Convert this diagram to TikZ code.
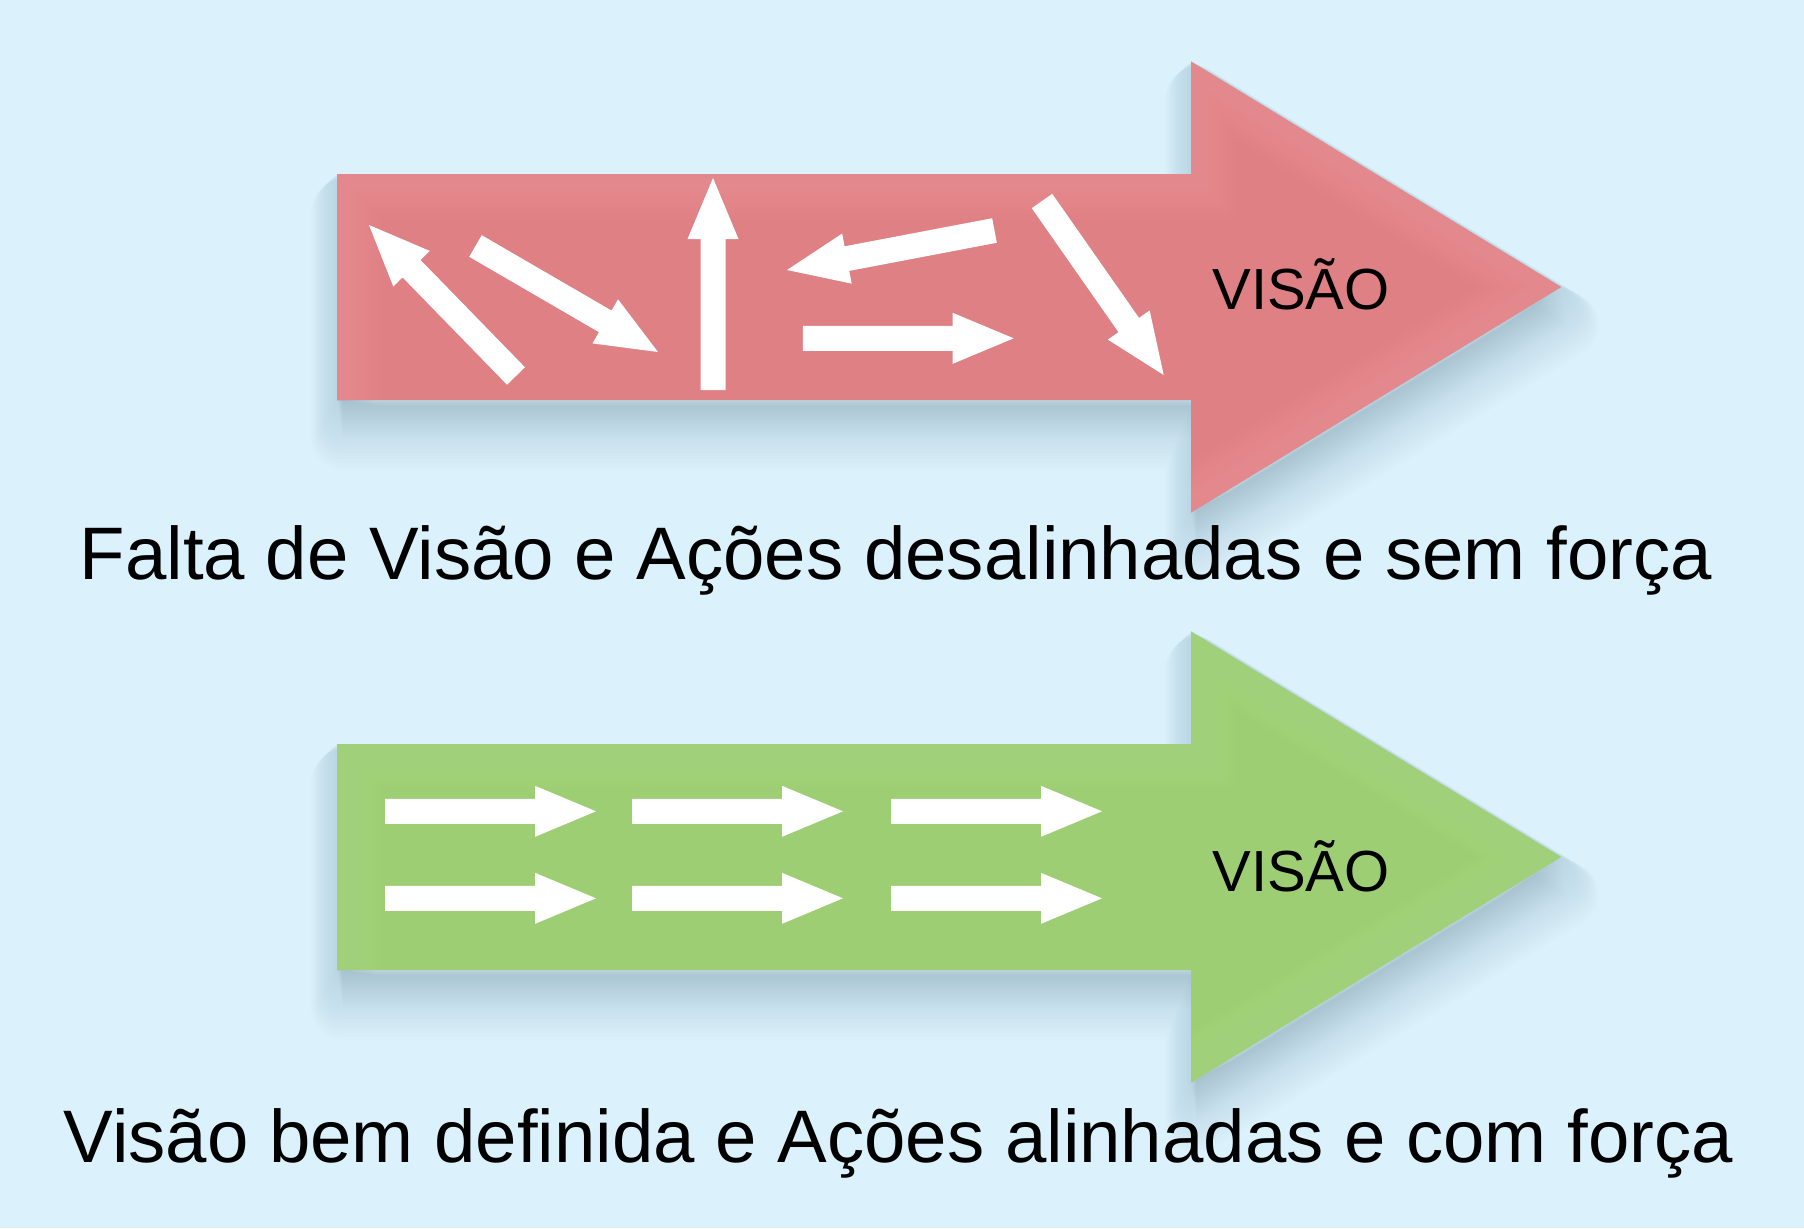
\documentclass[tikz,border=0pt]{standalone}
\usepackage{fontspec}
\setmainfont{Liberation Sans}
\usetikzlibrary{calc}
\definecolor{bgblue}{RGB}{219,242,253}
\definecolor{redbase}{RGB}{222,128,132}
\definecolor{redlight}{RGB}{238,148,153}
\definecolor{greenbase}{RGB}{157,206,116}
\definecolor{greenlight}{RGB}{171,220,133}
\definecolor{shadowc}{RGB}{70,100,115}
% big arrow outline, #1 = centre y (pixels)
\newcommand{\bigshape}[1]{(337,{#1-113}) -- (1191,{#1-113}) -- (1191,{#1-225.5}) -- (1561,#1) -- (1191,{#1+225.5}) -- (1191,{#1+113}) -- (337,{#1+113}) -- cycle}
\newcommand{\glowedge}[1]{(337,{#1+113}) -- (337,{#1-113}) -- (1191,{#1-113}) -- (1191,{#1-225.5}) -- (1561,#1) -- (1191,{#1+225.5})}
% soft shadow falling below a big arrow
\newcommand{\softshadow}[1]{%
  \foreach \k in {1,...,20}{%
    \filldraw[shadowc,opacity=0.009,line width=\k*1.6pt,line join=round,shift={(0.3*\k,1.9*\k)}] \bigshape{#1};}}
% inner light rim of a big arrow
\newcommand{\innerglow}[2]{%
  \begin{scope}
    \clip \bigshape{#1};
    \foreach \k in {1,...,11}{\draw[#2,opacity=0.09,line width=\k*4pt,line join=miter] \glowedge{#1};}
  \end{scope}}
% small white arrow: name, tail, tip
\newcommand{\whitearrow}[3]{%
  \coordinate (#1t) at #2;
  \coordinate (#1p) at #3;
  \coordinate (#1b) at ($(#1p)!30.5pt!(#1t)$);
  \fill[smallarrow] ($(#1t)!6.25pt!90:(#1p)$) -- ($(#1b)!6.25pt!-90:(#1t)$) -- ($(#1b)!12.75pt!-90:(#1t)$) -- (#1p) -- ($(#1b)!12.75pt!90:(#1t)$) -- ($(#1b)!6.25pt!90:(#1t)$) -- ($(#1t)!6.25pt!-90:(#1p)$) -- cycle;}
\begin{document}
\begin{tikzpicture}[x=0.5pt,y=-0.5pt,
  smallarrow/.style={fill=white},
  caption/.style={inner sep=0pt,anchor=base,font=\fontsize{37.2pt}{40pt}\selectfont},
  vislabel/.style={inner sep=0pt,anchor=base west,font=\fontsize{29pt}{32pt}\selectfont}]
\fill[bgblue] (0,0) rectangle (1804,1228);
\useasboundingbox (0,0) rectangle (1804,1228);

% red arrow
\softshadow{287}
\fill[redbase] \bigshape{287};
\innerglow{287}{redlight}
% green arrow
\softshadow{857}
\fill[greenbase] \bigshape{857};
\innerglow{857}{greenlight}

% scattered arrows
\whitearrow{a1}{(516,376)}{(369,225)}
\whitearrow{a2}{(475.5,246)}{(658,352)}
\whitearrow{a3}{(713,390)}{(713,178)}
\whitearrow{a4}{(994.5,230.5)}{(787,270)}
\whitearrow{a5}{(802.8,338.3)}{(1013.7,338.3)}
\whitearrow{a6}{(1042,201)}{(1163.7,375)}

% aligned arrows
\foreach \r/\yy in {1/811.3,2/898.3}{
  \foreach \c/\xx in {1/385,2/632,3/891}{
    \whitearrow{g\r\c}{(\xx,\yy)}{({\xx+211},\yy)}
  }
}

\node[vislabel] (vis1) at (1212,309) {VISÃO};
\node[vislabel] (vis2) at (1212,891) {VISÃO};
\node[caption] (cap1) at (896,579) {Falta de Visão e Ações desalinhadas e sem força};
\node[caption] (cap2) at (898.5,1162.7) {Visão bem definida e Ações alinhadas e com força};
\end{tikzpicture}
\end{document}
